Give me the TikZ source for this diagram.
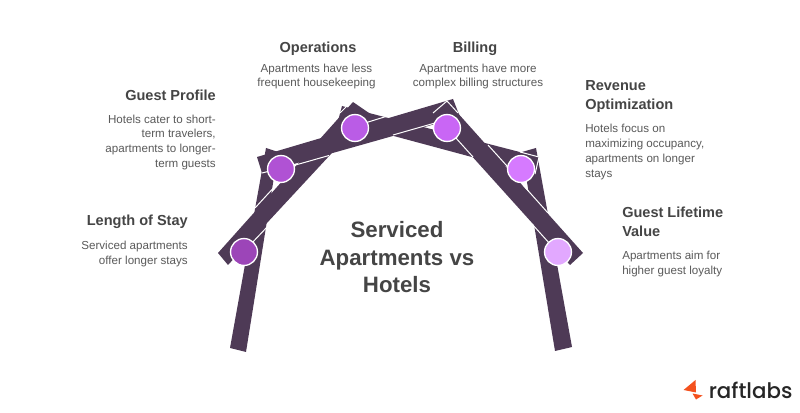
\documentclass[tikz,border=0pt]{standalone}
\usepackage{fontspec}
\setmainfont{Liberation Sans}
\newfontfamily\logofont{Poppins}[UprightFont=* Medium]
\definecolor{beam}{HTML}{4E3A56}
\definecolor{titlecol}{HTML}{454545}
\definecolor{bodycol}{HTML}{5A5A5A}
\definecolor{logoorange}{HTML}{F4511E}
\definecolor{c1}{HTML}{9C45B8}
\definecolor{c2}{HTML}{B052D4}
\definecolor{c3}{HTML}{BA5CE6}
\definecolor{c4}{HTML}{C966F5}
\definecolor{c5}{HTML}{D67AFF}
\definecolor{c6}{HTML}{E2A8FF}
\tikzset{
  beamshape/.style={fill=beam},
  seam/.style={draw=white,line width=0.75pt},
  dot/.style={circle,draw=white,line width=1pt,minimum size=20.2pt,inner sep=0pt},
  headtext/.style={text=titlecol,font=\fontsize{10.9}{14.2}\selectfont\bfseries,inner sep=0pt},
  bodytext/.style={text=bodycol,font=\fontsize{8.7}{11.1}\selectfont,inner sep=0pt},
  maintitle/.style={text=titlecol,font=\fontsize{16.7}{20.6}\selectfont\bfseries,align=center,inner sep=0pt},
}
\begin{document}
\begin{tikzpicture}[x=0.75pt,y=-0.75pt]
\useasboundingbox (0,0) rectangle (800,413);
\fill[white] (0,0) rectangle (800,413);
% beams
\fill[beamshape] (230,348) -- (266,148) -- (278,152) -- (246,352) -- cycle;
\fill[beamshape] (555,351) -- (522,152) -- (536,148) -- (572,347) -- cycle;
\fill[beamshape] (342,106) -- (539,157) -- (535,174) -- (338,121) -- cycle;
\fill[beamshape] (218,253) -- (353,102) -- (369,113) -- (228,265) -- cycle;
\fill[beamshape] (257,157) -- (453,99) -- (460,117) -- (262,173) -- cycle;
\fill[beamshape] (433,113) -- (447,101) -- (583,253) -- (570,265) -- cycle;
% seams where one beam passes over another
\draw[seam] (255,208) -- (278,183);
\draw[seam] (250,245) -- (269,225);
\draw[seam] (262,173) -- (270,171);
\draw[seam] (292,166) -- (329,155.5);
\draw[seam] (340,113) -- (347,106);
\draw[seam] (365,123) -- (386,116.5);
\draw[seam] (393,135) -- (435,123);
\draw[seam] (433,113) -- (447,101) -- (458,113);
\draw[seam] (455,137) -- (473,157);
\draw[seam] (488,145) -- (507,166);
\draw[seam] (523,185) -- (548,213);
\draw[seam] (532,224) -- (550,244);
\draw[seam] (520,152) -- (539,157) -- (535,174);
% circles
\node[dot,fill=c1] (c1) at (244,252) {};
\node[dot,fill=c2] (c2) at (281,169) {};
\node[dot,fill=c3] (c3) at (355,128) {};
\node[dot,fill=c4] (c4) at (447,128) {};
\node[dot,fill=c5] (c5) at (521,169) {};
\node[dot,fill=c6] (c6) at (558,252) {};
% center title
\node[maintitle] (main) at (397,257.5) {Serviced\\Apartments vs\\Hotels};
% labels
\node[headtext,anchor=center] (h3) at (318,48.5) {Operations};
\node[bodytext,align=center,anchor=north] (b3) at (316.5,63.5) {Apartments have less\\frequent housekeeping};
\node[headtext,anchor=center] (h4) at (475,48.5) {Billing};
\node[bodytext,align=center,anchor=north] (b4) at (478,63.5) {Apartments have more\\complex billing structures};
\node[headtext,anchor=east] (h2) at (216,95) {Guest Profile};
\node[bodytext,align=right,anchor=north east] (b2) at (216,114.5) {Hotels cater to short-\\term travelers,\\apartments to longer-\\term guests};
\node[headtext,anchor=east] (h1) at (188,222) {Length of Stay};
\node[bodytext,align=right,anchor=north east] (b1) at (188,241) {Serviced apartments\\offer longer stays};
\node[headtext,align=left,anchor=north west] (h5) at (585,80) {Revenue\\Optimization};
\node[bodytext,align=left,anchor=north west] (b5) at (585,124) {Hotels focus on\\maximizing occupancy,\\apartments on longer\\stays};
\node[headtext,align=left,anchor=north west] (h6) at (622,207) {Guest Lifetime\\Value};
\node[bodytext,align=left,anchor=north west] (b6) at (622,251) {Apartments aim for\\higher guest loyalty};
% logo
\fill[logoorange] (683.5,390) -- (695.5,380) -- (696,392.5) -- cycle;
\fill[logoorange] (692.5,393.5) -- (702.5,395.5) -- (696,399.5) -- cycle;
\node[anchor=base west,inner sep=0pt,text=black!85,font=\logofont\fontsize{16}{18}\selectfont] (logo) at (708.5,398) {raftlabs};
\end{tikzpicture}
\end{document}
